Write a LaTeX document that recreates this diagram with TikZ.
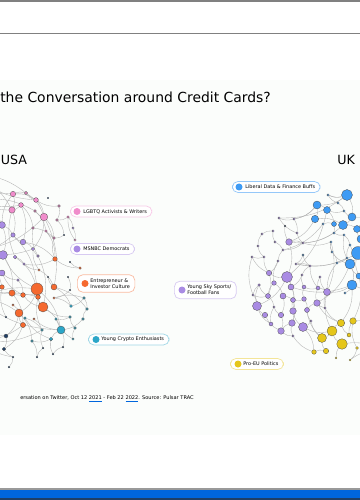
\documentclass[tikz,border=0pt]{standalone}
\usepackage{fontspec}
\setmainfont{DejaVu Sans}
\usetikzlibrary{positioning}

\definecolor{lgbtpink}{HTML}{F08CCB}
\definecolor{dempurple}{HTML}{A98BE3}
\definecolor{bizorange}{HTML}{F5692F}
\definecolor{cryptocyan}{HTML}{2BA6C8}
\definecolor{navydot}{HTML}{1F3F66}
\definecolor{finblue}{HTML}{3E9BF4}
\definecolor{eugold}{HTML}{E5C61A}
\definecolor{slidebg}{HTML}{FBFDFB}
\definecolor{barblue}{HTML}{0066DD}

\newcommand\tagfont{\fontsize{3.5}{4.3}\selectfont}
\newcommand\tagpad{\hspace*{2mm}}
\newcommand\spellmark[1]{{\color{barblue}\underline{\color{black}#1}}}

\pgfdeclarelayer{bg}
\pgfdeclarelayer{links}
\pgfsetlayers{bg,links,main}

\begin{document}
\begin{tikzpicture}[x=0.25mm, y=-0.25mm,
    dot/.style={circle, draw=black!70, line width=0.2pt, inner sep=0pt},
    link/.style={draw=black!30, line width=0.25pt},
    tag/.style={rectangle, draw, rounded corners=1.4mm, fill=white,
      line width=0.5pt, minimum height=2.75mm, inner xsep=1.25mm,
      inner ysep=0.5mm, anchor=west, align=left, font=\tagfont},
    tagdot/.style={circle, inner sep=0pt, minimum size=1.75mm},
    heading/.style={font=\fontsize{9.9}{12}\selectfont, inner sep=0pt},
    country/.style={font=\fontsize{9}{11}\selectfont, inner sep=0pt},
    note/.style={font=\fontsize{3.6}{4.4}\selectfont, inner sep=0pt}
  ]
  \clip (0,0) rectangle (360,500);

  % slide frame
  \begin{pgfonlayer}{bg}
    \fill[white] (0,0) rectangle (360,500);
    \fill[slidebg] (0,80) rectangle (360,435);
    \fill[black!50] (0,0.5) rectangle (360,1.6);
    \fill[black!50] (0,32.6) rectangle (360,33.6);
    \fill[black!40] (0,488.4) rectangle (360,489.6);
    \fill[barblue] (0,489.6) rectangle (360,498);
    \fill[navydot] (0,498) rectangle (360,500);
  \end{pgfonlayer}

  % headings
  \node[heading, anchor=base west] (title) at (0,103)
    {the Conversation around Credit Cards?};
  \node[country, anchor=base west] (usa) at (0.5,165) {USA};
  \node[country, anchor=base west] (uk) at (337,165) {UK};
  \node[note, anchor=base east] (source) at (194,399)
    {ersation on Twitter, Oct 12 \spellmark{2021} - Feb 22 \spellmark{2022}. Source: Pulsar TRAC};

  % USA network
  \foreach \nm/\px/\py/\rad/\col in {
      a1/13/194/2.7/lgbtpink, a2/26/193/1.6/lgbtpink, a3/36/200/2.4/lgbtpink,
      a4/21/205/2.4/lgbtpink, a5/12/210/3.2/lgbtpink, a6/35/211/1.4/lgbtpink,
      a7/44/217/3.8/lgbtpink, a8/59/206/1.4/lgbtpink, a9/57/220/1.4/lgbtpink,
      a10/68/217/1.3/lgbtpink, a11/33/228/1.4/lgbtpink, a12/46/231/1.3/lgbtpink,
      a13/54/238/1.4/lgbtpink, a14/75/240/1.2/lgbtpink,
      b1/2/225/3.4/dempurple, b2/13/235/2.2/dempurple, b3/23/242/2.8/dempurple,
      b4/33/249/1.7/dempurple, b5/3/255/4.4/dempurple, b6/15/257/1.8/dempurple,
      b7/38/256/1.4/dempurple, b8/2/273/3/dempurple, b9/24/264/1.3/dempurple,
      b10/18/280/1.3/dempurple, b11/73/228/1.2/dempurple,
      c1/55/259/2.3/bizorange, c2/80/268/1.3/bizorange, c3/39/270/1.2/bizorange,
      c4/2/287/2.3/bizorange, c5/12/293/3.2/bizorange, c6/23/295/2.4/bizorange,
      c7/37/289/6/bizorange, c8/54/287/3/bizorange, c9/38/297/2.4/bizorange,
      c10/13/305/1.2/bizorange, c11/19/313/4/bizorange, c12/43/307/5/bizorange,
      c13/54/298/1.2/bizorange, c14/23/325/2.6/bizorange, c15/34/319/1.2/bizorange,
      d1/71/306/1.5/cryptocyan, d2/84/298/1.4/cryptocyan, d3/87/309/1.4/cryptocyan,
      d4/70/317/1.4/cryptocyan, d5/83/319/1.4/cryptocyan, d6/61/330/4/cryptocyan,
      d7/42/330/1.4/cryptocyan, d8/75/328/1.4/cryptocyan, d9/51/339/1.8/cryptocyan,
      d10/32/341/1.4/cryptocyan, d11/73/339/1.2/cryptocyan, d12/56/319/1.3/cryptocyan,
      d13/25/318/1.3/cryptocyan,
      e1/6/336/2/navydot, e2/4/349/1.8/navydot, e3/43/348/1/navydot,
      e4/63/347/1/navydot, e5/13/357/1/navydot, e6/37/357/1/navydot,
      e7/53/354/1/navydot, e8/9/367/1/navydot, e9/6/317/1/navydot,
      e10/48/198/0.8/navydot, e11/64/235/0.8/navydot, e12/48/277/0.8/navydot,
      e13/68/277/0.8/navydot, e14/70/262/0.8/navydot, e15/70/290/0.8/navydot}
  {\node[dot, fill=\col, minimum size=\rad*0.5mm] (\nm) at (\px,\py) {};}

  % rest of the graph, off the slide
  \coordinate (h1) at (-20,200);
  \coordinate (h2) at (-20,250);
  \coordinate (h3) at (-20,300);
  \coordinate (h4) at (-20,340);
  \coordinate (h5) at (-25,175);

  \begin{pgfonlayer}{links}
    \foreach \a/\b in {a1/a3, a1/a5, a2/a7, a3/a7, a4/b3, a5/b2, a6/a12,
        a7/b4, a7/a13, a4/a11, b1/b5, b2/c7, b3/c1, b5/c5, b6/c7, b7/c12,
        a5/h1, h5/a2, h1/b1, h2/b5, h2/c4, h3/c11, h4/e1, h3/c7, a7/c8,
        a12/c1, c7/c11, c7/d6, c12/d6, c8/d1, c5/c14, c11/d10, c14/e2,
        a1/a2, a4/a5, a8/a9, a11/a13, b1/b2, b3/b4, b6/b9, b10/c6, c3/c8,
        c6/c9, c10/c11, c13/d1, d2/d3, d4/d12, d9/d10, e1/e2, e5/e8,
        e7/e4, h1/a1, h3/c5, h5/a5, a9/e11, c2/e14, e13/e15, h1/a6, h3/c9}
    {\draw[link] (\a) to[bend left=18] (\b);}
    \foreach \a/\b in {d6/d9, c12/d4, d3/c8, b8/c6, b4/c3, a11/b7, a13/c1,
        a9/a10, a3/a8, c1/c2, c7/c12, c9/d7, d7/e3, d9/e7, d4/d8, d2/c13,
        e1/c11, h4/e5, h1/a4, h2/a7, h3/d6, b5/c7, a1/b1, b9/c3, c6/c12,
        c15/d6, d13/d9, c4/e9, h5/a3, a5/b6, d6/d5, d12/d11, e4/d6, e6/d10,
        a2/a3, a6/a7, a10/a14, a12/a13, b2/b3, b4/b7, b8/b10, b9/c1, c5/c6,
        c9/c12, c11/c14, d1/d2, d3/d5, d8/d11, d7/d13, e2/e5, e3/e6,
        h2/b2, h4/c14, a14/b11, a13/e11, e12/c8, c13/e15, b11/a10, h2/b4,
        h4/d7}
    {\draw[link] (\a) to[bend right=18] (\b);}
  \end{pgfonlayer}

  % UK network
  \foreach \nm/\px/\py/\rad/\col in {
      f1/347/195/5.5/finblue, f2/317/205/4/finblue, f3/327/210/3.5/finblue,
      f4/315/219/3.7/finblue, f5/352/217/4/finblue, f6/343/225/4.5/finblue,
      f7/334/224/2.5/finblue, f8/357/229/3.5/finblue, f9/361/239/4/finblue,
      f10/358/253/6.5/finblue, f11/350/264/5/finblue, f12/352/285/5/finblue,
      f13/359/276/3/finblue, f14/328/195/1.2/finblue, f15/338/203/1.2/finblue,
      f16/344/211/1.2/finblue, f17/323/224/1.2/finblue, f18/331/242/1.2/finblue,
      f19/334/233/1.2/finblue, f20/344/235/1.2/finblue, f21/350/245/1.2/finblue,
      f22/347/258/1.2/finblue, f23/337/263/1.2/finblue, f24/345/293/1.2/finblue,
      f25/332/252/1.2/finblue, f26/303/255/1.1/finblue,
      g1/289/242/3.3/dempurple, g2/279/218/1.2/dempurple, g3/294/219/1.2/dempurple,
      g4/285/226/0.9/navydot, g5/273/231/1.2/dempurple, g6/262/234/1.2/dempurple,
      g7/297/233/1.2/dempurple, g8/275/242/1.2/dempurple, g9/303/243/1.2/dempurple,
      g10/258/246/1.2/dempurple, g11/283/250/1.2/dempurple, g12/264/257/1.2/dempurple,
      g13/252/257/1.2/dempurple, g14/278/261/1.2/dempurple, g15/296/264/1.2/dempurple,
      g16/310/266/1.2/dempurple, g17/287/277/5.5/dempurple, g18/269/273/2.7/dempurple,
      g19/259/285/1.3/dempurple, g20/274/283/2.3/dempurple, g21/291/287/3/dempurple,
      g22/304/287/2/dempurple, g23/318/288/2/dempurple, g24/327/292/3.5/dempurple,
      g25/268/296/2.5/dempurple, g26/283/296/3/dempurple, g27/293/300/2.5/dempurple,
      g28/304/299/2.3/dempurple, g29/317/303/3.3/dempurple, g30/257/306/4.5/dempurple,
      g31/274/307/1.2/dempurple, g32/293/311/3.3/dempurple, g33/307/310/2.5/dempurple,
      g34/265/315/2.7/dempurple, g35/281/315/2.7/dempurple, g36/311/321/1.2/dempurple,
      g37/271/324/2/dempurple, g38/292/323/3.3/dempurple, g39/303/327/4.5/dempurple,
      g40/281/331/3.3/dempurple, g41/293/336/1.2/dempurple, g42/325/308/1.2/dempurple,
      g43/302/275/1.2/dempurple, g44/320/277/1.2/dempurple, g45/253/295/1.2/dempurple,
      k1/341/323/3.7/eugold, k2/353/321/3.3/eugold, k3/332/331/5/eugold,
      k4/322/338/4.5/eugold, k5/342/344/5.3/eugold, k6/349/335/2/eugold,
      k7/326/351/2.7/eugold, k8/314/352/2.3/eugold, k9/357/348/1.5/eugold,
      k10/336/358/1/eugold, k11/350/360/1/eugold}
  {\node[dot, fill=\col, minimum size=\rad*0.5mm] (\nm) at (\px,\py) {};}

  \coordinate (z1) at (385,210);
  \coordinate (z2) at (385,260);
  \coordinate (z3) at (385,310);
  \coordinate (z4) at (380,350);

  \begin{pgfonlayer}{links}
    \foreach \a/\b in {f1/f2, f1/f5, f2/f4, f3/f7, f4/g1, f2/g3, f6/f8,
        f5/f6, f7/f19, f4/f6, f10/f11, f11/f12, f6/g9, f1/g2, f3/g17,
        f18/g24, f10/g15, f11/g29, f12/k1, f12/g24, f13/k2, f8/z1, f10/z2,
        f12/z3, k5/z4, f19/g1, f17/g11, g1/g17, g17/g30, g17/g21, g17/g32,
        g18/g25, g20/g26, g21/g27, g27/g38, g26/g35,
        f1/f14, f15/f16, f2/f3, f17/f7, f20/f21, f22/f23, f25/f18, f13/f11,
        g3/g7, g9/g11, g14/g18, g8/g11, g12/g13, g45/g19, g25/g31, g35/g40,
        g41/g38, g32/g27, g28/g33, g36/g39, g23/g24, g42/g29, g15/g16,
        g43/g21, f26/g15, k6/k2, k10/k5, k3/k4, z1/f5, z3/k2, f9/f8,
        g1/g9, g26/g27, g17/g18}
    {\draw[link] (\a) to[bend left=18] (\b);}
    \foreach \a/\b in {g30/g34, g30/g37, g32/g39, g33/k4, g39/k3, g38/g40,
        g29/k1, g24/k3, g22/g28, g23/g29, g12/g18, g6/g10, g5/g8, g2/g7,
        g14/g20, g16/g23, g43/g22, g44/g24, g21/f12, g34/g40, k3/k5, k4/k7,
        k1/k6, k2/k9, k8/g39, g45/g25, g19/g30, g15/f22, f14/f1, f25/f11,
        f23/g24, g42/k1, g36/k4, g41/k8, f9/z1, f20/f11, f21/f10, g3/f2,
        g9/f18, g13/g18, g31/g37, f26/g16,
        f14/f15, f16/f5, f3/f16, f19/f20, f21/f22, f23/f25, f24/f12, g2/g3,
        g7/g9, g11/g14, g5/g6, g10/g12, g13/g45, g19/g25, g31/g35, g40/g41,
        g38/g32, g27/g28, g33/g36, g22/g23, g24/g42, g29/g33, g16/g43,
        g44/g23, f18/f25, k7/k8, k11/k9, k1/k3, z2/f13, z4/k11, f10/f13,
        g4/g1, g20/g25, g30/g45}
    {\draw[link] (\a) to[bend right=18] (\b);}
  \end{pgfonlayer}

  % community tags
  \node[tag, draw=lgbtpink!45] (lgbtq) at (70,211.5)
    {\tagpad LGBTQ Activists \& Writers};
  \node[tagdot, fill=lgbtpink] (lgbtqdot) at (77,211.5) {};
  \node[tag, draw=dempurple!45] (msnbc) at (70,249)
    {\tagpad MSNBC Democrats};
  \node[tagdot, fill=dempurple] (msnbcdot) at (77,249) {};
  \node[tag, draw=bizorange!45, minimum height=4.4mm] (investor) at (77,283.5)
    {\tagpad Entrepreneur \&\\\tagpad Investor Culture};
  \node[tagdot, fill=bizorange] (investordot) at (85,283.5) {};
  \node[tag, draw=cryptocyan!45] (crypto) at (88,339.5)
    {\tagpad Young Crypto Enthusiasts};
  \node[tagdot, fill=cryptocyan] (cryptodot) at (96,339.5) {};
  \node[tag, draw=finblue!55] (finance) at (232,187)
    {\tagpad Liberal Data \& Finance Buffs};
  \node[tagdot, fill=finblue] (financedot) at (239,187) {};
  \node[tag, draw=dempurple!45, minimum height=4.4mm] (sky) at (174,290)
    {\tagpad Young Sky Sports/\\\tagpad Football Fans};
  \node[tagdot, fill=dempurple] (skydot) at (182,290) {};
  \node[tag, draw=eugold!45] (proeu) at (230,364)
    {\tagpad Pro-EU Politics};
  \node[tagdot, fill=eugold] (proeudot) at (238,364) {};
\end{tikzpicture}
\end{document}
